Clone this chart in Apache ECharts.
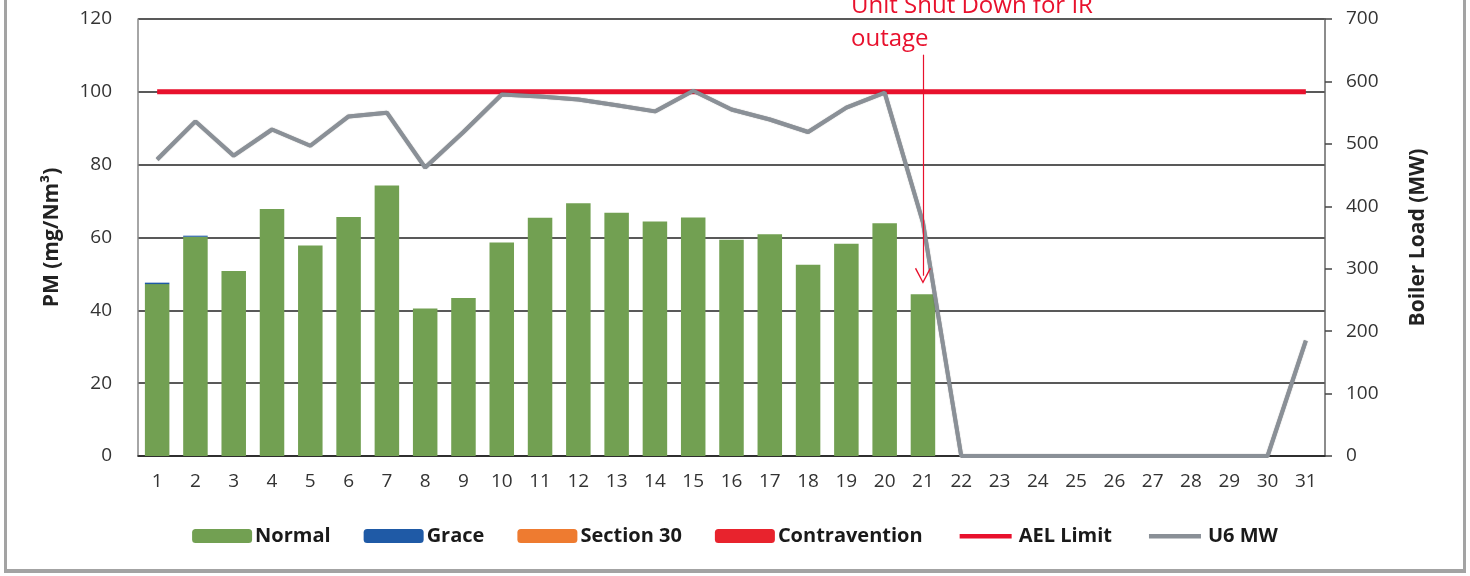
<!DOCTYPE html>
<html>
<head>
<meta charset="utf-8">
<script src="https://cdn.jsdelivr.net/npm/echarts@6/dist/echarts.min.js"></script>
<style>
html,body{margin:0;padding:0;background:#fff;}
#frame{position:absolute;left:4px;top:-4px;width:1456px;height:573px;border-left:3px solid #a3a3a3;border-right:3px solid #a3a3a3;border-bottom:4px solid #a3a3a3;box-sizing:content-box;}
#chart{position:absolute;left:0;top:0;width:1470px;height:576px;}
</style>
</head>
<body>
<div id="frame"></div>
<div id="chart"></div>
<script>
const days = ['1','2','3','4','5','6','7','8','9','10','11','12','13','14','15','16','17','18','19','20','21','22','23','24','25','26','27','28','29','30','31'];
const normal = [47.2, 60.2, 50.8, 67.8, 57.8, 65.6, 74.3, 40.5, 43.4, 58.6, 65.4, 69.4, 66.8, 64.4, 65.5, 59.4, 60.9, 52.5, 58.3, 63.9, 44.4, null, null, null, null, null, null, null, null, null, null];
const grace = [0.4, 0.3, 0, 0, 0, 0, 0, 0, 0, 0, 0, 0, 0, 0, 0, 0, 0, 0, 0, 0, 0, null, null, null, null, null, null, null, null, null, null];
const section30 = [0,0,0,0,0,0,0,0,0,0,0,0,0,0,0,0,0,0,0,0,0,null,null,null,null,null,null,null,null,null,null];
const contravention = [0,0,0,0,0,0,0,0,0,0,0,0,0,0,0,0,0,0,0,0,0,null,null,null,null,null,null,null,null,null,null];
const aelLimit = [100,100,100,100,100,100,100,100,100,100,100,100,100,100,100,100,100,100,100,100,100,100,100,100,100,100,100,100,100,100,100];
const u6MW = [475, 536, 481, 523, 497, 544, 550, 462, 519, 579, 576, 571, 562, 552, 585, 555, 539, 519, 558, 582, 374, 0, 0, 0, 0, 0, 0, 0, 0, 0, 185];
const leftTicks = {min: 0, max: 120, interval: 20};
const rightTicks = {min: 0, max: 700, interval: 100};
const annotationText = 'Unit Shut Down for IR\noutage';
const arrowDay = '21';
const arrowFrom = 110.2;
const arrowTo = 49.5;

const FONT = 'Open Sans';
const chart = echarts.init(document.getElementById('chart'), null, {renderer: 'canvas'});
const chevron = 'path://M10,0 L20,17 L18.6,18 L10,3 L1.4,18 L0,17 Z';
// thin horizontal stroke centred in a legend box (corner dots keep the box size)
const lineIcon = 'path://M4,5 H56 V9.5 H4 Z M0,0 H0.01 V0.01 H0 Z M59.99,14 H60 V14 H59.99 Z';

chart.setOption({
  animation: false,
  textStyle: {fontFamily: FONT},
  grid: {left: 138, right: 145, top: 19, bottom: 120, containLabel: false},
  legend: {
    bottom: 25,
    left: 'center',
    itemWidth: 60,
    itemHeight: 14,
    itemGap: 33,
    symbolKeepAspect: false,
    textStyle: {fontFamily: FONT, fontWeight: 'bold', fontSize: 20, color: '#1a1a1a', padding: [0,0,0,-2]},
    data: [
      {name: 'Normal'}, {name: 'Grace'}, {name: 'Section 30'}, {name: 'Contravention'},
      {name: 'AEL Limit', icon: lineIcon}, {name: 'U6 MW', icon: lineIcon}
    ]
  },
  xAxis: {
    type: 'category',
    data: days,
    boundaryGap: true,
    axisLine: {show: true, lineStyle: {color: '#222', width: 1.5}},
    axisTick: {show: false},
    axisLabel: {fontSize: 19, color: '#333', margin: 16, interval: 0}
  },
  yAxis: [
    {
      type: 'value', min: leftTicks.min, max: leftTicks.max, interval: leftTicks.interval,
      name: 'PM (mg/Nm³)', nameLocation: 'middle', nameGap: 75, nameRotate: 90,
      nameTextStyle: {fontSize: 21, fontWeight: 'bold', color: '#222'},
      axisLine: {show: true, lineStyle: {color: '#888', width: 1.5}},
      axisTick: {show: false},
      axisLabel: {fontSize: 19, color: '#333', margin: 26},
      splitLine: {show: true, lineStyle: {color: '#222', width: 1.5}}
    },
    {
      type: 'value', min: rightTicks.min, max: rightTicks.max, interval: rightTicks.interval,
      name: 'Boiler Load (MW)', nameLocation: 'middle', nameGap: 83, nameRotate: 90,
      nameTextStyle: {fontSize: 21, fontWeight: 'bold', color: '#222'},
      position: 'right',
      axisLine: {show: true, lineStyle: {color: '#666', width: 1.5}},
      axisTick: {show: true, inside: false, length: 7, lineStyle: {color: '#444', width: 1.5}},
      axisLabel: {fontSize: 19, color: '#333', margin: 21},
      splitLine: {show: false}
    }
  ],
  graphic: [
    {
      type: 'text', left: 851, top: -10, silent: true,
      style: {text: annotationText, fontFamily: FONT, fontSize: 24, lineHeight: 33, fill: '#e8112d'}
    }
  ],
  series: [
    {
      name: 'Normal', type: 'bar', stack: 'pm', data: normal, barWidth: '64%',
      itemStyle: {color: '#72a052'},
      emphasis: {disabled: true},
      markLine: {
        silent: true,
        symbol: ['none', chevron],
        symbolSize: [16, 16],
        label: {show: false},
        lineStyle: {color: '#e8112d', width: 1.2, type: 'solid'},
        data: [[{coord: [arrowDay, arrowFrom]}, {coord: [arrowDay, arrowTo]}]]
      }
    },
    {name: 'Grace', type: 'bar', stack: 'pm', data: grace, itemStyle: {color: '#1f5aa6'}, emphasis: {disabled: true}},
    {name: 'Section 30', type: 'bar', stack: 'pm', data: section30, itemStyle: {color: '#ee7b30'}, emphasis: {disabled: true}},
    {name: 'Contravention', type: 'bar', stack: 'pm', data: contravention, itemStyle: {color: '#e8232d'}, emphasis: {disabled: true}},
    {
      name: 'AEL Limit', type: 'line', data: aelLimit, yAxisIndex: 0, symbol: 'none',
      lineStyle: {color: '#e8112d', width: 5}, itemStyle: {color: '#e8112d'}, emphasis: {disabled: true}, z: 3
    },
    {
      name: 'U6 MW', type: 'line', data: u6MW, yAxisIndex: 1, symbol: 'none',
      lineStyle: {color: '#8a9097', width: 4, shadowColor: 'rgba(60,60,60,0.6)', shadowBlur: 1}, itemStyle: {color: '#8a9097'}, emphasis: {disabled: true}, z: 4
    }
  ]
});
</script>
</body>
</html>
